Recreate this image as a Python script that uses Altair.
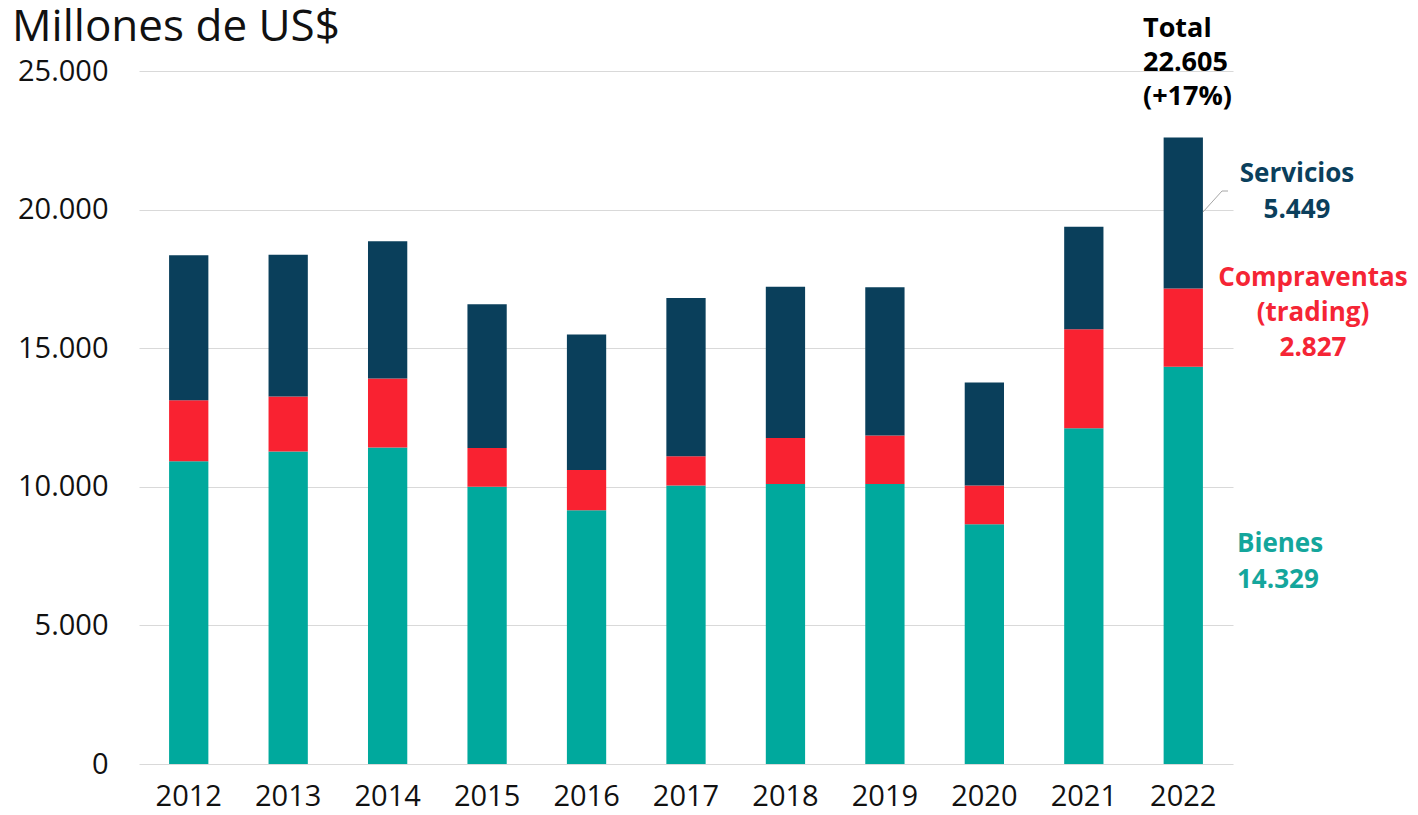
import altair as alt
import pandas as pd

years = ["2012", "2013", "2014", "2015", "2016", "2017", "2018", "2019", "2020", "2021", "2022"]
bienes = [10920, 11270, 11420, 10000, 9150, 10050, 10100, 10100, 8650, 12110, 14329]
compraventas = [2200, 1985, 2485, 1400, 1460, 1055, 1660, 1750, 1400, 3570, 2827]
servicios = [5230, 5120, 4950, 5190, 4880, 5710, 5460, 5350, 3710, 3700, 5449]
series_names = ["Bienes", "Compraventas", "Servicios"]
series_colors = ["#00A99D", "#F92231", "#0A3F5B"]
y_ticks = [0, 5000, 10000, 15000, 20000, 25000]

title_text = "Millones de US$"
total_lines = ["Total", "22.605", "(+17%)"]
serv_lines = ["Servicios", "5.449"]
comp_lines = ["Compraventas", "(trading)", "2.827"]
bien_lines = ["Bienes", "14.329"]

FONT = "Open Sans"

rows = []
for i, yr in enumerate(years):
    for k, (name, vals) in enumerate(zip(series_names, [bienes, compraventas, servicios])):
        rows.append({"year": yr, "serie": name, "valor": vals[i], "orden": k})
df = pd.DataFrame(rows)

bars = alt.Chart(df).mark_bar().encode(
    x=alt.X("year:N", sort=years,
            scale=alt.Scale(paddingInner=0.605, paddingOuter=0.3025),
            axis=alt.Axis(title=None, labelAngle=0, labelFontSize=29, labelPadding=18,
                          ticks=False, domain=False, labelFont=FONT, labelColor="#111111",
                          grid=False)),
    y=alt.Y("valor:Q", stack="zero",
            scale=alt.Scale(domain=[0, 25000], nice=False),
            axis=alt.Axis(title=None, values=y_ticks, labelFontSize=29, labelPadding=31,
                          labelFont=FONT, labelColor="#111111", ticks=False, domain=False,
                          gridColor="#D9D9D9", gridWidth=1,
                          labelExpr="replace(format(datum.value, ',.0f'), ',', '.')")),
    color=alt.Color("serie:N", sort=series_names,
                    scale=alt.Scale(domain=series_names, range=series_colors), legend=None),
    order=alt.Order("orden:Q", sort="ascending"),
)


def text_block(lines, x, y0, step, color, size, weight, align):
    layers = []
    for j, line in enumerate(lines):
        layers.append(
            alt.Chart(pd.DataFrame({"t": [line]})).mark_text(
                font=FONT, fontSize=size, fontWeight=weight, color=color,
                align=align, baseline="alphabetic"
            ).encode(text="t:N", x=alt.value(x), y=alt.value(y0 + j * step))
        )
    return layers


annots = []
annots += text_block([title_text], -127, -30, 0, "#111111", 44, "normal", "left")
annots += text_block(total_lines, 1004, -34, 34, "#000000", 27, "bold", "left")
annots += text_block(serv_lines, 1158, 111, 36, "#0B3F5C", 26, "bold", "center")
annots += text_block(comp_lines, 1174, 215, 35, "#F52535", 26, "bold", "center")
annots += text_block(bien_lines, 1098, 481, 36, "#14A69C", 26, "bold", "left")

leader_df = pd.DataFrame({"k": [0]})
leader1 = alt.Chart(leader_df).mark_rule(color="#A6A6A6", strokeWidth=1).encode(
    x=alt.value(1064), x2=alt.value(1083), y=alt.value(141), y2=alt.value(120))
leader2 = alt.Chart(leader_df).mark_rule(color="#A6A6A6", strokeWidth=1).encode(
    x=alt.value(1083), x2=alt.value(1089), y=alt.value(120), y2=alt.value(120))

chart = alt.layer(bars, leader1, leader2, *annots).properties(
    width=1094, height=693,
    background="white",
    autosize=alt.AutoSizeParams(type="none"),
    padding={"left": 131, "top": 63, "right": 177, "bottom": 52},
).configure_view(strokeWidth=0, stroke="transparent")

chart.save("out.html", embed_options={"renderer": "svg", "actions": False})
